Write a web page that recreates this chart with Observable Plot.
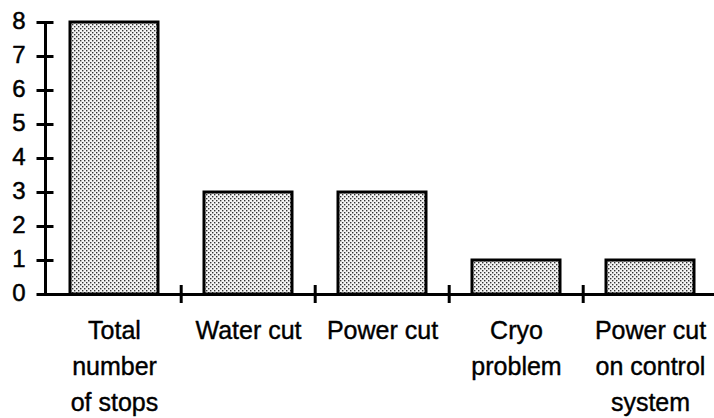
<!DOCTYPE html>
<html>
<head>
<meta charset="utf-8">
<script src="https://cdn.jsdelivr.net/npm/d3@7"></script>
<script src="https://cdn.jsdelivr.net/npm/@observablehq/plot@0.6"></script>
<style>
  html, body { margin: 0; padding: 0; background: #fff; }
  svg { display: block; }
</style>
</head>
<body>
<div id="chart"></div>
<script>
const categories = ["Total\nnumber\nof stops", "Water cut", "Power cut", "Cryo\nproblem", "Power cut\non control\nsystem"];
const values = [8, 3, 3, 1, 1];
const yTicks = [0, 1, 2, 3, 4, 5, 6, 7, 8];

const data = categories.map((c, i) => ({category: c, value: values[i]}));

const width = 714, height = 418;
const xRange = [45, 718];
const step = (xRange[1] - xRange[0]) / categories.length;
const font = "'Liberation Sans', Arial, Helvetica, sans-serif";

const chart = Plot.plot({
  width, height,
  marginLeft: 45, marginRight: 0, marginTop: 22, marginBottom: 124,
  style: {fontFamily: font, color: "black", background: "white", overflow: "visible"},
  x: {domain: categories, range: xRange, paddingInner: 0.345, paddingOuter: 0.17, axis: null},
  y: {domain: [0, 8], axis: null},
  marks: [
    Plot.barY(data, {x: "category", y: "value", fill: "url(#dots)", stroke: "black", strokeWidth: 3}),
    Plot.frame({anchor: "left", strokeWidth: 3}),
    Plot.ruleY([0], {strokeWidth: 3}),
    Plot.axisY({ticks: yTicks, label: null, tickSize: 17, dx: 8.5, strokeWidth: 3, tickFormat: () => ""}),
    Plot.text(yTicks, {y: d => d, text: d => String(d), frameAnchor: "left", textAnchor: "end", dx: -20, dy: -1, fontSize: 24, fill: "black", stroke: "black", strokeWidth: 0.5}),
    Plot.ruleX(categories.slice(1), {x: d => d, y1: 0, y2: 0, insetTop: -9, insetBottom: -9, dx: -step / 2, strokeWidth: 3}),
    Plot.text(categories, {x: d => d, y: 0, text: d => d, dy: 19, lineAnchor: "top", lineHeight: 1.44, fontSize: 25, fill: "black", stroke: "black", strokeWidth: 0.4})
  ]
});

const svg = d3.select(chart);
const pat = svg.insert("defs", ":first-child")
  .append("pattern")
  .attr("id", "dots")
  .attr("width", 4).attr("height", 4)
  .attr("patternUnits", "userSpaceOnUse");
pat.append("rect").attr("width", 4).attr("height", 4).attr("fill", "#f4f4f4");
pat.append("rect").attr("x", 0).attr("y", 0).attr("width", 1.4).attr("height", 1.4).attr("fill", "#333");
pat.append("rect").attr("x", 2).attr("y", 2).attr("width", 1.4).attr("height", 1.4).attr("fill", "#333");

document.getElementById("chart").appendChild(chart);
</script>
</body>
</html>
